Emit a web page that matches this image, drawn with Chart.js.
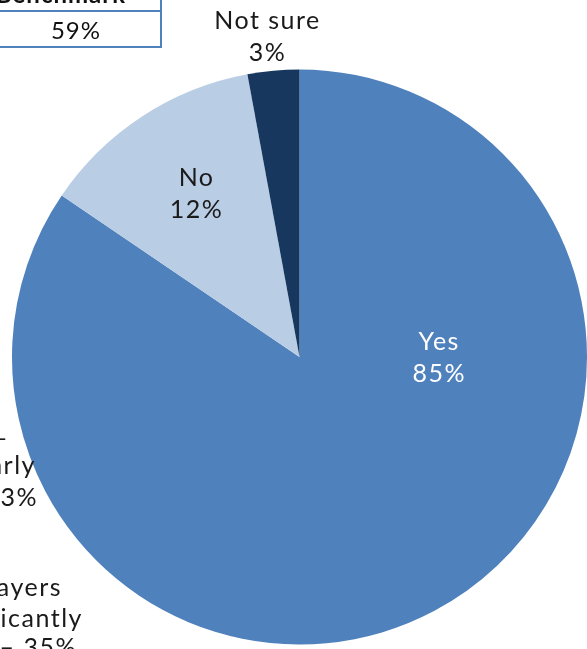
<!DOCTYPE html>
<html>
<head>
<meta charset="utf-8">
<script src="https://cdn.jsdelivr.net/npm/chart.js@4"></script>
<style>
html,body{margin:0;padding:0;background:#fff;overflow:hidden;}
#wrap{position:relative;width:587px;height:649px;overflow:hidden;font-family:Lato,"Open Sans",sans-serif;}
canvas{position:absolute;left:0;top:0;}
.t{position:absolute;font-size:25px;color:#1a1a1a;white-space:nowrap;line-height:32px;letter-spacing:1.5px;}
#tbl{position:absolute;left:-40px;top:-26px;width:202px;border:2px solid #4F81BD;border-collapse:collapse;}
#tbl td{border:2px solid #4F81BD;text-align:center;font-size:24px;height:34px;padding:0;color:#111;letter-spacing:1px;}
</style>
</head>
<body>
<div id="wrap">
<canvas id="c" width="587" height="649"></canvas>
<table id="tbl"><tr><td style="font-weight:bold;">Benchmark</td></tr><tr><td style="padding-left:30px">59%</td></tr></table>
<div class="t" style="right:578px;top:421px;text-align:right">–</div>
<div class="t" style="right:551px;top:448px;text-align:right">Somewhat regularly</div>
<div class="t" style="right:549px;top:480px;text-align:right">– 23%</div>
<div class="t" style="right:525px;top:570px;text-align:right">Other players</div>
<div class="t" style="right:504px;top:601px;text-align:right">Significantly</div>
<div class="t" style="right:510px;top:630px;text-align:right">– 35%</div>
</div>
<script>
const categories = ["Yes", "No", "Not sure"];
const values = [84.5, 12.6, 2.9];
const percentLabels = ["85%", "12%", "3%"];
const colors = ["#4F81BD", "#B9CDE5", "#17375E"];
const labelColors = ["#ffffff", "#1a1a1a", "#1a1a1a"];
// label placement: angle (deg from top, clockwise) and radius factor
const labelPos = [
  {ang: 90.4, rf: 0.486},
  {ang: -32.3, rf: 0.67},
  {ang: -5.7, rf: 1.12}
];

const labelPlugin = {
  id: 'sliceLabels',
  afterDatasetsDraw(chart) {
    const ctx = chart.ctx;
    const meta = chart.getDatasetMeta(0);
    ctx.save();
    ctx.font = '25px Lato, "Open Sans", sans-serif';
    ctx.letterSpacing = '1.5px';
    ctx.textAlign = 'center';
    ctx.textBaseline = 'middle';
    meta.data.forEach((arc, i) => {
      const p = labelPos[i];
      const a = p.ang * Math.PI / 180;
      const r = arc.outerRadius * p.rf;
      const x = arc.x + Math.sin(a) * r;
      const y = arc.y - Math.cos(a) * r;
      ctx.fillStyle = labelColors[i];
      ctx.fillText(categories[i], x, y - 16);
      ctx.fillText(percentLabels[i], x, y + 16);
    });
    ctx.restore();
  }
};

new Chart(document.getElementById('c'), {
  type: 'pie',
  data: {
    labels: categories,
    datasets: [{
      data: values,
      backgroundColor: colors,
      borderWidth: 0
    }]
  },
  options: {
    responsive: false,
    animation: false,
    layout: {padding: {left: 12, right: 0, top: 69, bottom: 4}},
    plugins: {legend: {display: false}, tooltip: {enabled: false}}
  },
  plugins: [labelPlugin]
});
</script>
</body>
</html>
